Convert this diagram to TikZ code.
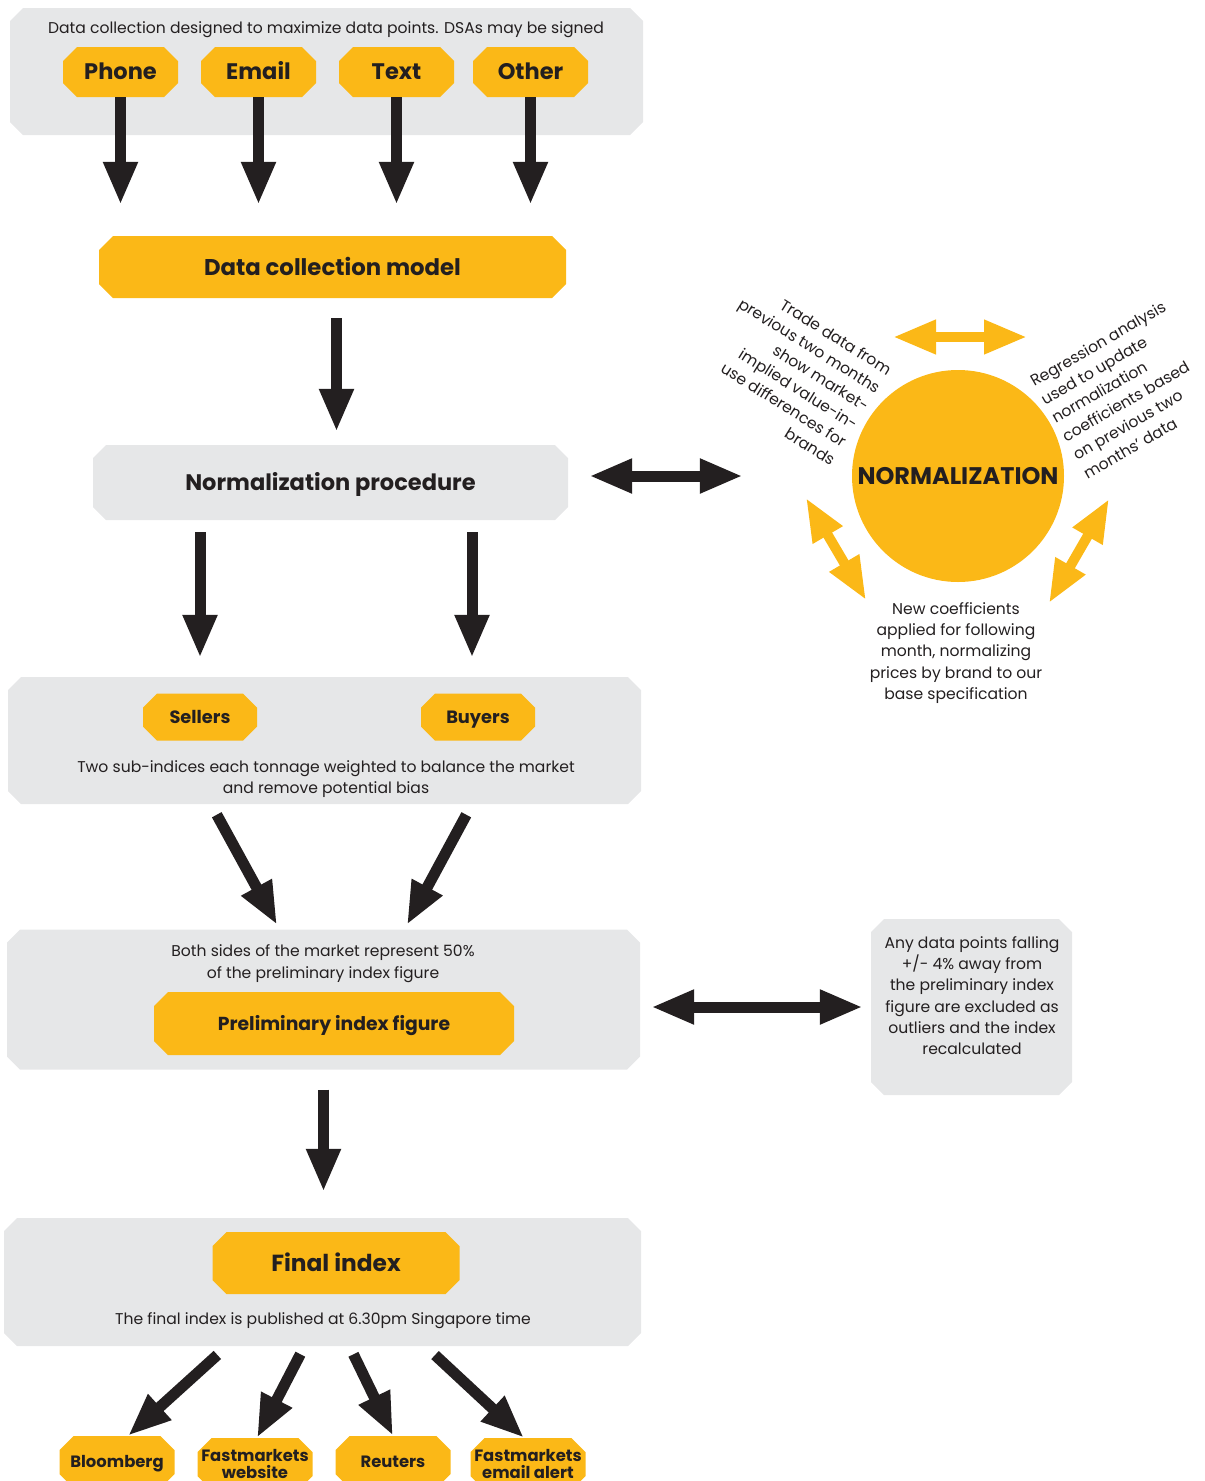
\documentclass[tikz,border=0pt]{standalone}
\usepackage{fontspec}
\setmainfont{Poppins}
\usetikzlibrary{arrows.meta}
\definecolor{ink}{HTML}{231F20}
\definecolor{yel}{HTML}{FBB817}
\definecolor{pale}{HTML}{E6E7E8}
\newcommand{\smalltxt}{\fontsize{15.6}{21.3}\selectfont}
\newcommand{\headtxt}[1]{\bfseries\fontsize{#1}{17}\selectfont}
\begin{document}
\begin{tikzpicture}[x=1pt,y=-1pt,
    every node/.append style={text=ink},
    cut/.style 2 args={path picture={\fill[#1] ([xshift=#2]path picture bounding box.north west) -- ([xshift=-#2]path picture bounding box.north east) -- ([yshift=-#2]path picture bounding box.north east) -- ([yshift=#2]path picture bounding box.south east) -- ([xshift=-#2]path picture bounding box.south east) -- ([xshift=#2]path picture bounding box.south west) -- ([yshift=#2]path picture bounding box.south west) -- ([yshift=-#2]path picture bounding box.north west) -- cycle;}},
    panel/.style={cut={pale}{13pt}, inner sep=0pt},
    ybox/.style={cut={yel}{14pt}, inner sep=0pt, align=center},
    cap/.style={text height=#1, text depth=0pt},
    note/.style={font=\smalltxt, align=center, inner sep=0pt},
    fat/.style={line width=11pt, draw=ink, -{Triangle[width=32pt,length=43pt]}},
    fatboth/.style={fat, {Triangle[width=32pt,length=43pt]}-{Triangle[width=32pt,length=43pt]}},
    yfat/.style={fatboth, draw=yel, line width=10pt}]

     \useasboundingbox (0,0) rectangle (1205,1481);

     %Data collection
     \node[panel, minimum width=633pt, minimum height=127pt] (top) at (326.5,71.5) {};
     \node[note] (hdr) at (326,29.5) {Data collection designed to maximize data points. DSAs may be signed};
     \node[ybox, cap=15.7pt, minimum width=115pt, minimum height=50pt, font=\headtxt{22.5}] (phone) at (120.5,72) {Phone};
     \node[ybox, cap=15.7pt, minimum width=115pt, minimum height=50pt, font=\headtxt{22.5}] (email) at (258.5,72) {Email};
     \node[ybox, cap=15.7pt, minimum width=115pt, minimum height=50pt, font=\headtxt{22.5}] (text) at (396.5,72) {Text};
     \node[ybox, cap=15.7pt, minimum width=115pt, minimum height=50pt, font=\headtxt{22.5}] (other) at (530.5,72) {Other};
     \node[ybox, cap=16pt, minimum width=467pt, minimum height=62pt, font=\headtxt{22.8}] (model) at (332.5,267) {Data collection model};
     \draw[fat, shorten >=31pt] (phone.south) -- (phone.south |- model.north);
     \draw[fat, shorten >=31pt] (email.south) -- (email.south |- model.north);
     \draw[fat, shorten >=31pt] (text.south) -- (text.south |- model.north);
     \draw[fat, shorten >=31pt] (other.south) -- (other.south |- model.north);

     %Normalization
     \node[panel, cap=15.7pt, minimum width=475pt, minimum height=75pt, font=\headtxt{22.5}] (norm) at (330.5,482.5) {Normalization procedure};
     \draw[fat, shorten <=20pt, shorten >=13pt] ([xshift=4pt]model.south) -- ([xshift=4pt]model.south |- norm.north);
     \node[circle, fill=yel, cap=16.8pt, minimum size=212pt, inner sep=0pt, font=\headtxt{24}] (circ) at (958,476) {NORMALIZATION};
     \draw[fatboth, shorten <=21pt, shorten >=109pt] (circ -| norm.east) -- (circ.west);
     \node[note, align=right, rotate=-32, anchor=east] (trade) at (862,416) {Trade data from\\previous two months\\show market-\\implied value-in-\\use differences for\\brands};
     \node[note, align=left, rotate=30, anchor=west] (regr) at (1058,428) {Regression analysis\\used to update\\normalization\\coefficients based\\on previous two\\months' data};
     \node[note] (coef) at (956,653) {New coefficients\\applied for following\\month, normalizing\\prices by brand to our\\base specification};
     \coordinate (ya1) at (893,337);
     \coordinate (ya2) at (1027,337);
     \coordinate (yb1) at (806,498);
     \coordinate (yb2) at (866,600);
     \coordinate (yc1) at (1109,499);
     \coordinate (yc2) at (1049,603);
     \draw[yfat] (ya1) -- (ya2);
     \draw[yfat] (yb1) -- (yb2);
     \draw[yfat] (yc1) -- (yc2);

     %Sellers and buyers
     \node[panel, minimum width=633pt, minimum height=127pt] (sb) at (324.5,740.5) {};
     \node[ybox, cap=12.5pt, minimum width=114pt, minimum height=47pt, font=\headtxt{17.8}] (sell) at (200,717) {Sellers};
     \node[ybox, cap=12.5pt, minimum width=114pt, minimum height=47pt, font=\headtxt{17.8}] (buy) at (478,717) {Buyers};
     \node[note] (sbtxt) at (326,779) {Two sub-indices each tonnage weighted to balance the market\\and remove potential bias};
     \draw[fat, shorten <=12pt, shorten >=19pt] (sell |- norm.south) -- (sell |- sb.north);
     \draw[fat, shorten <=12pt, shorten >=19pt] ([xshift=-6pt]buy |- norm.south) -- ([xshift=-6pt]buy |- sb.north);

     %Preliminary index
     \node[panel, minimum width=633pt, minimum height=140pt] (pre) at (323.5,999.5) {};
     \node[note] (pretxt) at (323,963.5) {Both sides of the market represent 50\%\\of the preliminary index figure};
     \node[ybox, cap=13.2pt, minimum width=360pt, minimum height=63pt, font=\headtxt{18.8}] (prebox) at (334,1023.5) {Preliminary index figure};
     \draw[fat, shorten <=12pt, shorten >=5pt] ([xshift=-113.5pt]sb.south) -- ([xshift=-44pt]pre.north);
     \draw[fat, shorten <=12pt, shorten >=5pt] ([xshift=147.5pt]sb.south) -- ([xshift=81pt]pre.north);
     \node[panel, minimum width=201pt, minimum height=176pt] (out) at (971.5,1007) {};
     \node[note] (outtxt) at (972,995.5) {Any data points falling\\+/- 4\% away from\\the preliminary index\\figure are excluded as\\outliers and the index\\recalculated};
     \draw[fatboth, shorten <=11pt, shorten >=8pt] (out.west -| pre.east) -- (out.west);

     %Final index
     \node[panel, minimum width=637pt, minimum height=128pt] (fin) at (322.5,1282) {};
     \node[ybox, cap=16.3pt, minimum width=247pt, minimum height=62pt, font=\headtxt{23.3}] (finbox) at (336,1263) {Final index};
     \node[note] (fintxt) at (323,1321) {The final index is published at 6.30pm Singapore time};
     \draw[fat, shorten <=20pt, shorten >=26pt] (pre.south) -- (pre.south |- fin.north);
     \node[ybox, cap=11.5pt, minimum width=115pt, minimum height=52pt, font=\headtxt{16.4}] (bloom) at (117,1462) {Bloomberg};
     \node[ybox, minimum width=115pt, minimum height=52pt, font=\headtxt{16.4}] (web) at (255,1464) {Fastmarkets\\website};
     \node[ybox, cap=11.5pt, minimum width=115pt, minimum height=52pt, font=\headtxt{16.4}] (reut) at (393,1462) {Reuters};
     \node[ybox, minimum width=115pt, minimum height=52pt, font=\headtxt{16.4}] (mail) at (528,1464) {Fastmarkets\\email alert};
     \draw[fat, shorten <=13pt] ([xshift=-95.5pt]fin.south) -- ([xshift=11pt]bloom.north);
     \draw[fat, shorten <=9pt] ([xshift=-18pt]fin.south) -- ([xshift=2pt]web.north);
     \draw[fat, shorten <=9pt] ([xshift=27pt]fin.south) -- (reut.north);
     \draw[fat, shorten <=13pt] ([xshift=103pt]fin.south) -- ([xshift=-4pt]mail.north);

    \end{tikzpicture}
\end{document}
